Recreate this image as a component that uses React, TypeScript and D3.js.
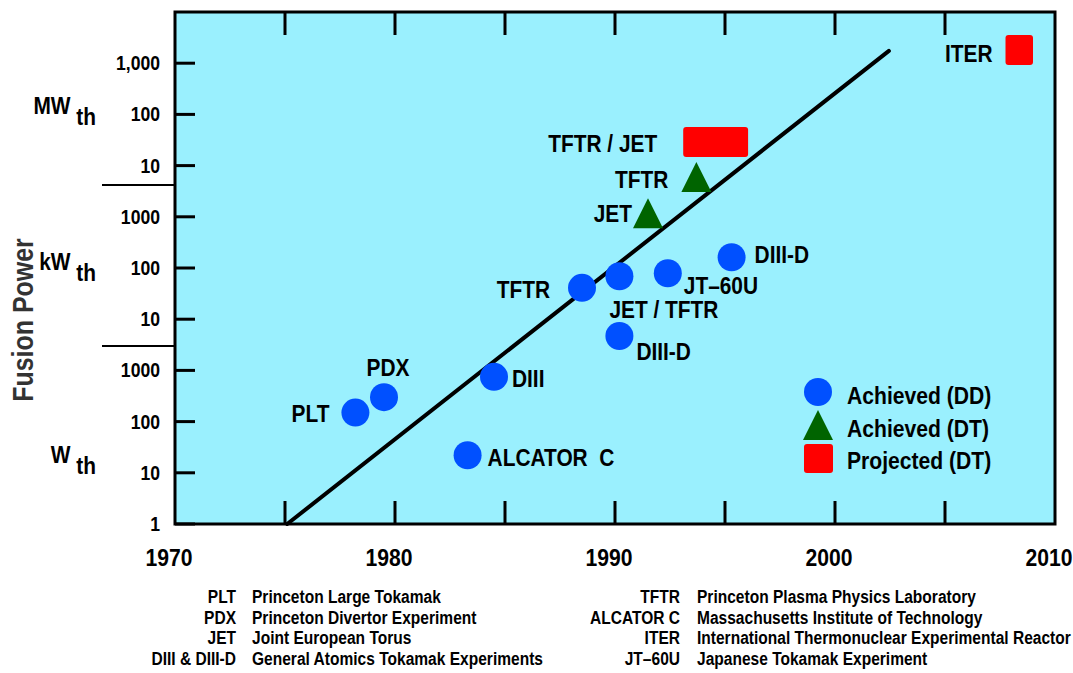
import * as d3 from "d3";
import { useEffect } from "react";

// axis values
const yearTicks = [1975, 1980, 1985, 1990, 1995, 2000, 2005];
const yearLabels = [1970, 1980, 1990, 2000, 2010];
const powerTicks = [1, 10, 100, 1e3, 1e4, 1e5, 1e6, 1e7, 1e8, 1e9];
const powerTickLabels = ["1", "10", "100", "1000", "10", "100", "1000", "10", "100", "1,000"];
const unitLabels = [
  { unit: "W", watts: 15.5 },
  { unit: "kW", watts: 9e4 },
  { unit: "MW", watts: 1e8 },
];
const unitBreaks = [3e3, 4.2e6];

// achieved DD
const ddShots = [
  { id: "plt", name: "PLT", year: 1978.2, watts: 150 },
  { id: "pdx", name: "PDX", year: 1979.5, watts: 300 },
  { id: "alc", name: "ALCATOR  C", year: 1983.3, watts: 22 },
  { id: "d3", name: "DIII", year: 1984.5, watts: 750 },
  { id: "tftr", name: "TFTR", year: 1988.5, watts: 4.1e4 },
  { id: "jettftr", name: "JET / TFTR", year: 1990.2, watts: 6.9e4 },
  { id: "d3dlow", name: "DIII-D", year: 1990.2, watts: 4.7e3 },
  { id: "jt60", name: "JT–60U", year: 1992.4, watts: 7.9e4 },
  { id: "d3dhigh", name: "DIII-D", year: 1995.3, watts: 1.62e5 },
];

// achieved DT
const dtShots = [
  { id: "jet", name: "JET", year: 1991.5, watts: 1.17e6 },
  { id: "tftrdt", name: "TFTR", year: 1993.7, watts: 6e6 },
];

// projected DT
const projected = [
  { id: "tftrjet", name: "TFTR / JET", yearFrom: 1993.1, yearTo: 1996.05, watts: 2.9e7 },
  { id: "iter", name: "ITER", yearFrom: 2007.75, yearTo: 2009.0, watts: 1.82e9 },
];

const trend = [
  { year: 1975.1, watts: 1 },
  { year: 2002.45, watts: 1.74e9 },
];

const legendItems = ["Achieved (DD)", "Achieved (DT)", "Projected (DT)"];

const footerLeft = [
  ["PLT", "Princeton Large Tokamak"],
  ["PDX", "Princeton Divertor Experiment"],
  ["JET", "Joint European Torus"],
  ["DIII & DIII-D", "General Atomics Tokamak Experiments"],
];
const footerRight = [
  ["TFTR", "Princeton Plasma Physics Laboratory"],
  ["ALCATOR C", "Massachusetts Institute of Technology"],
  ["ITER", "International Thermonuclear Experimental Reactor"],
  ["JT–60U", "Japanese Tokamak Experiment"],
];

// where each label sits relative to its marker
const placement: Record<string, { dx: number; dy: number; anchor: string }> = {
  plt: { dx: -26, dy: 9, anchor: "end" },
  pdx: { dx: 4, dy: -21, anchor: "middle" },
  alc: { dx: 20, dy: 11, anchor: "start" },
  d3: { dx: 18, dy: 10, anchor: "start" },
  tftr: { dx: -32, dy: 10, anchor: "end" },
  jettftr: { dx: -10, dy: 42, anchor: "start" },
  d3dlow: { dx: 17, dy: 24, anchor: "start" },
  jt60: { dx: 16, dy: 21, anchor: "start" },
  d3dhigh: { dx: 23, dy: 6, anchor: "start" },
  jet: { dx: -16, dy: 9, anchor: "end" },
  tftrdt: { dx: -28, dy: 11, anchor: "end" },
  tftrjet: { dx: -26, dy: 10, anchor: "end" },
  iter: { dx: -13, dy: 12, anchor: "end" },
};

const BLUE = "#0050ff";
const GREEN = "#006400";
const RED = "#ff0000";
const BG = "#9af0fe";
const FONT = "'Liberation Sans', Arial, Helvetica, sans-serif";

const Txt = ({ x, y, size = 24, s = 0.87, anchor = "start", rotate = 0, fill = "#000", children }: any) => (
  <text
    transform={`translate(${x},${y})${rotate ? ` rotate(${rotate})` : ""} scale(${s},1)`}
    textAnchor={anchor}
    fontSize={size}
    fontWeight="bold"
    fontFamily={FONT}
    fill={fill}
  >
    {children}
  </text>
);

const tri = (cx: number, cy: number, h = 30) =>
  `M${cx},${cy - h / 2}L${cx + h / 2},${cy + h / 2}L${cx - h / 2},${cy + h / 2}Z`;

export default function App() {
  useEffect(() => {
    document.body.style.margin = "0";
  }, []);

  const x = d3.scaleLinear().domain([1970, 2010]).range([175, 1055]);
  const y = d3.scaleLog().domain([1, 1e10]).range([524, 12]);
  const [x0, x1] = x.range();
  const [y0, y1] = y.range();

  const line = d3
    .line<{ year: number; watts: number }>()
    .x((d) => x(d.year))
    .y((d) => y(d.watts));

  return (
    <svg width={1073} height={673} style={{ display: "block", background: "#fff" }}>
      {/* plot area */}
      <rect x={x0} y={y1} width={x1 - x0} height={y0 - y1} fill={BG} />

      {/* x ticks, bottom and top */}
      {yearTicks.map((t) => (
        <g key={t} stroke="#000" strokeWidth={3}>
          <line x1={x(t)} x2={x(t)} y1={y0} y2={y0 - 23} />
          <line x1={x(t)} x2={x(t)} y1={y1} y2={y1 + 23} />
        </g>
      ))}
      {yearLabels.map((t) => (
        <Txt key={t} x={x(t) - 6} y={566} size={23} s={0.92} anchor="middle">
          {t}
        </Txt>
      ))}

      {/* y ticks */}
      {powerTicks.map((p, i) => (
        <g key={p}>
          <line x1={x0} x2={x0 + 20} y1={y(p)} y2={y(p)} stroke="#000" strokeWidth={3} />
          <Txt x={160} y={y(p) + 7} size={20} s={0.88} anchor="end">
            {powerTickLabels[i]}
          </Txt>
        </g>
      ))}
      {unitBreaks.map((p) => (
        <line key={p} x1={102} x2={x0} y1={y(p)} y2={y(p)} stroke="#000" strokeWidth={2} />
      ))}
      {unitLabels.map((u) => (
        <Txt key={u.unit} x={96} y={y(u.watts)} size={24} s={0.87} anchor="end">
          {u.unit} <tspan dy={11}>th</tspan>
        </Txt>
      ))}
      <Txt x={33} y={320} size={29} s={0.86} anchor="middle" rotate={-90} fill="#333">
        Fusion Power
      </Txt>

      {/* trend line */}
      <path d={line(trend) ?? ""} fill="none" stroke="#000" strokeWidth={4} strokeLinecap="round" />

      {/* projected DT */}
      {projected.map((d) => (
        <g key={d.id}>
          <rect
            x={x(d.yearFrom)}
            y={y(d.watts) - 15}
            width={x(d.yearTo) - x(d.yearFrom)}
            height={30}
            rx={3}
            fill={RED}
          />
          <Txt
            x={x(d.yearFrom) + placement[d.id].dx}
            y={y(d.watts) + placement[d.id].dy}
            anchor={placement[d.id].anchor}
          >
            {d.name}
          </Txt>
        </g>
      ))}

      {/* achieved DT */}
      {dtShots.map((d) => (
        <g key={d.id}>
          <path d={tri(x(d.year), y(d.watts))} fill={GREEN} />
          <Txt x={x(d.year) + placement[d.id].dx} y={y(d.watts) + placement[d.id].dy} anchor={placement[d.id].anchor}>
            {d.name}
          </Txt>
        </g>
      ))}

      {/* achieved DD */}
      {ddShots.map((d) => (
        <g key={d.id}>
          <circle cx={x(d.year)} cy={y(d.watts)} r={14} fill={BLUE} />
          <Txt x={x(d.year) + placement[d.id].dx} y={y(d.watts) + placement[d.id].dy} anchor={placement[d.id].anchor}>
            <tspan style={{ whiteSpace: "pre" }}>{d.name}</tspan>
          </Txt>
        </g>
      ))}

      {/* legend */}
      <circle cx={818} cy={392} r={14} fill={BLUE} />
      <path d={tri(818, 425)} fill={GREEN} />
      <rect x={804} y={444} width={29} height={29} rx={3} fill={RED} />
      {legendItems.map((t, i) => (
        <Txt key={t} x={847} y={404 + i * 32.5} size={24} s={0.88}>
          {t}
        </Txt>
      ))}

      {/* frame */}
      <rect x={x0} y={y1} width={x1 - x0} height={y0 - y1} fill="none" stroke="#000" strokeWidth={3} />

      {/* footer */}
      {footerLeft.map(([a, b], i) => (
        <g key={a}>
          <Txt x={236} y={603 + i * 20.5} size={18.5} s={0.84} anchor="end">
            {a}
          </Txt>
          <Txt x={252} y={603 + i * 20.5} size={18.5} s={0.84}>
            {b}
          </Txt>
        </g>
      ))}
      {footerRight.map(([a, b], i) => (
        <g key={a}>
          <Txt x={680} y={603 + i * 20.5} size={18.5} s={0.84} anchor="end">
            {a}
          </Txt>
          <Txt x={697} y={603 + i * 20.5} size={18.5} s={0.84}>
            {b}
          </Txt>
        </g>
      ))}
    </svg>
  );
}
